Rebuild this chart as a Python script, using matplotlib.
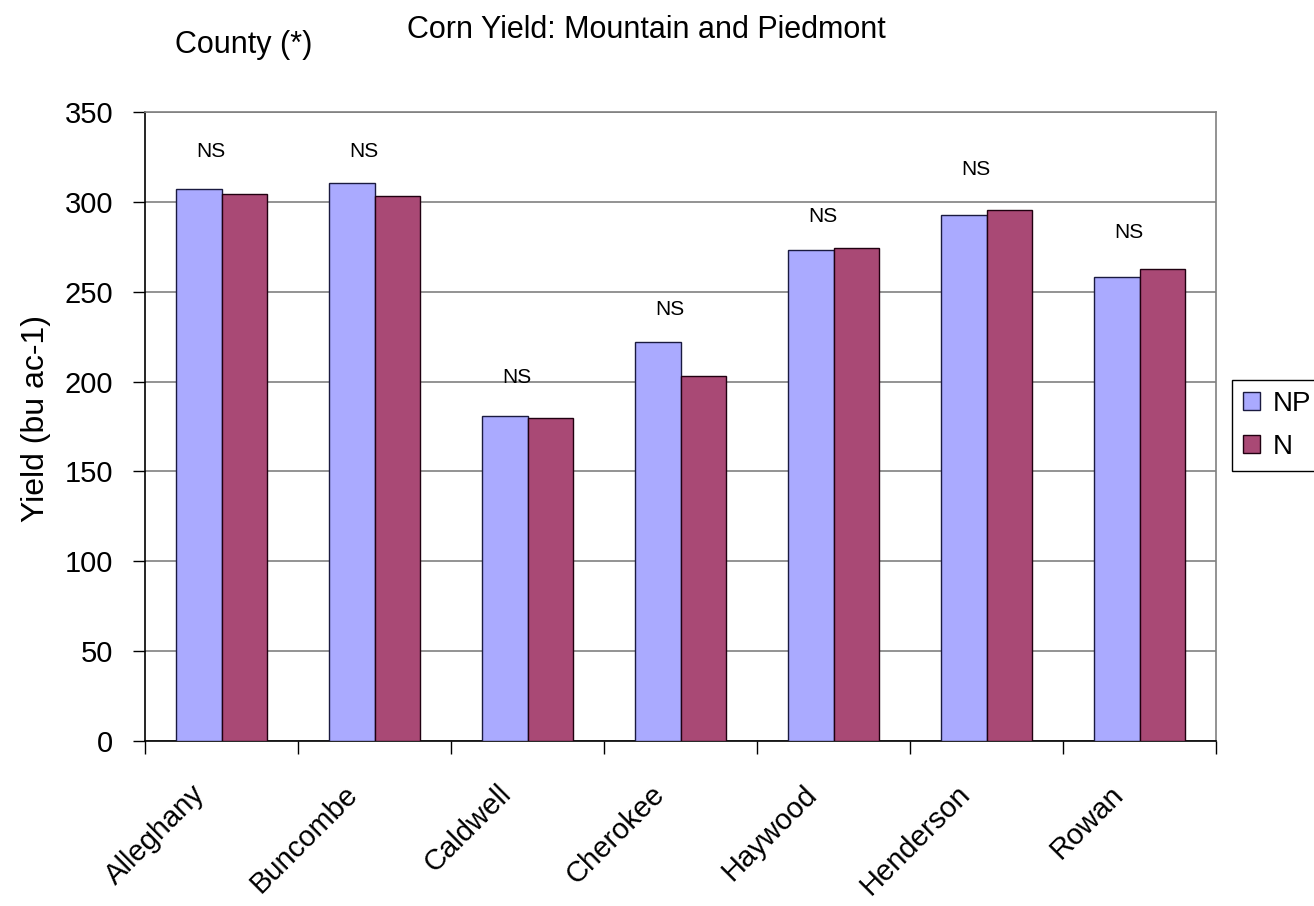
import numpy as np
import matplotlib.pyplot as plt
import matplotlib.transforms as mtransforms

plt.rcParams['font.family'] = ['Liberation Sans', 'DejaVu Sans']

counties = ['Alleghany', 'Buncombe', 'Caldwell', 'Cherokee', 'Haywood', 'Henderson', 'Rowan']
np_yield = [307, 310.5, 181, 222, 273, 292.5, 258]
n_yield = [304.5, 303, 179.5, 203, 274.5, 295.5, 262.5]
ns_y = [328, 328, 202, 240, 292, 318, 283]
ns_text = ['NS'] * 7

fig = plt.figure(figsize=(13.14, 9.06), dpi=100)
ax = fig.add_axes([145 / 1314, 1 - 741 / 906, (1216 - 145) / 1314, (741 - 112) / 906])

x = np.arange(len(counties))
w = 0.295
ax.bar(x - w / 2, np_yield, w, color='#AAAAFF', edgecolor='#1a1a40', linewidth=1, label='NP', zorder=3)
ax.bar(x + w / 2, n_yield, w, color='#A94975', edgecolor='#200010', linewidth=1, label='N', zorder=3)

for xi, yi, t in zip(x, ns_y, ns_text):
    ax.text(xi - 0.07, yi, t, ha='center', va='center', fontsize=15, zorder=4)

ax.set_xlim(-0.5, len(counties) - 0.5)
ax.set_ylim(0, 350)
ax.set_yticks(np.arange(0, 351, 50))
ax.yaxis.grid(True, color='#808080', linewidth=1.2, zorder=0)
ax.tick_params(axis='y', direction='out', length=9, width=1, labelsize=21, pad=14)

ax.set_xticks(x)
ax.set_xticklabels(counties, rotation=45, ha='right', rotation_mode='anchor', fontsize=21)
ax.tick_params(axis='x', which='major', length=0, pad=28)
# shift rotated labels left so their ends sit just left of the group centre
shift = mtransforms.ScaledTranslation(-22 / 72, 0, fig.dpi_scale_trans)
for lab in ax.get_xticklabels():
    lab.set_transform(lab.get_transform() + shift)
ax.set_xticks(np.arange(-0.5, len(counties)), minor=True)
ax.tick_params(axis='x', which='minor', direction='out', length=9, width=1)

for s in ['left', 'bottom']:
    ax.spines[s].set_color('black')
    ax.spines[s].set_linewidth(1.2)
for s in ['top', 'right']:
    ax.spines[s].set_color('#808080')
    ax.spines[s].set_linewidth(1.2)

ax.set_ylabel('Yield (bu ac-1)', fontsize=23, labelpad=10)
ax.yaxis.set_label_coords(-0.088, 0.512)

fig.text(646 / 1314, 1 - 30 / 906, 'Corn Yield: Mountain and Piedmont', ha='center', va='center', fontsize=22)
fig.text(175 / 1314, 1 - 45 / 906, 'County (*)', ha='left', va='center', fontsize=22)

fig.legend(loc='upper left', bbox_to_anchor=(1232 / 1314, 1 - 380 / 906), fontsize=20,
           frameon=True, fancybox=False, edgecolor='black', framealpha=1,
           handlelength=0.6, handleheight=0.6, handletextpad=0.45, borderpad=0.4,
           labelspacing=0.6, borderaxespad=0)

fig.savefig('out.png', dpi=100)
